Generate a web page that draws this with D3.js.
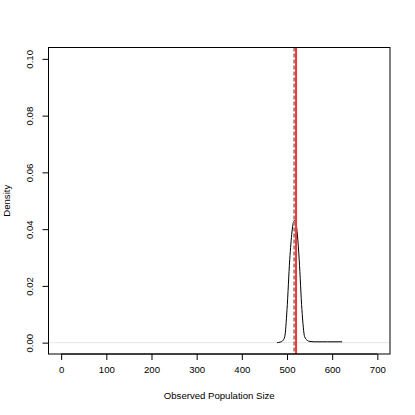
<!DOCTYPE html>
<html>
<head>
<meta charset="utf-8">
<script src="https://cdn.jsdelivr.net/npm/d3@7"></script>
<style>
  body { margin: 0; background: #fff; }
  text { font-family: "Liberation Sans", Arial, sans-serif; fill: #000; }
</style>
</head>
<body>
<div id="chart"></div>
<script>
// density estimate
const sizes = [478, 485, 490, 495, 500, 506, 511, 514, 517, 520, 523, 527, 533, 539, 545, 551, 560, 590, 622];
const density = [0.0000, 0.0002, 0.0006, 0.0021, 0.0116, 0.0292, 0.0390, 0.0423, 0.0431, 0.0420, 0.0380, 0.0292, 0.0116, 0.0021, 0.0008, 0.0004, 0.0003, 0.0003, 0.0003];
const trueSize = 520;   // red line
const modeSize = 516;   // grey dashed line
const xTicks = [0, 100, 200, 300, 400, 500, 600, 700];
const yTicks = [0, 0.02, 0.04, 0.06, 0.08, 0.10];

const width = 415;
const height = 415;
const margin = { top: 47.5, left: 48.5, bottom: 61, right: 25 };

const points = sizes.map((s, i) => ({ x: s, y: density[i] }));

const svg = d3.select("#chart").append("svg")
  .attr("width", width)
  .attr("height", height);

const x = d3.scaleLinear().domain([-28, 728]).range([margin.left, width - margin.right]);
const y = d3.scaleLinear().domain([-0.004, 0.104]).range([height - margin.bottom, margin.top]);

// zero line
svg.append("line")
  .attr("x1", margin.left).attr("x2", width - margin.right)
  .attr("y1", y(0)).attr("y2", y(0))
  .attr("stroke", "#e6e6e6").attr("stroke-width", 1);

// density curve
svg.append("path")
  .datum(points)
  .attr("fill", "none")
  .attr("stroke", "#000")
  .attr("stroke-width", 1)
  .attr("d", d3.line().x(d => x(d.x)).y(d => y(d.y)).curve(d3.curveMonotoneX));

// reference lines
svg.append("line")
  .attr("x1", x(modeSize)).attr("x2", x(modeSize))
  .attr("y1", margin.top).attr("y2", height - margin.bottom)
  .attr("stroke", "#8c8c8c").attr("stroke-width", 2)
  .attr("stroke-dasharray", "4,2");

svg.append("line")
  .attr("x1", x(trueSize)).attr("x2", x(trueSize))
  .attr("y1", margin.top).attr("y2", height - margin.bottom)
  .attr("stroke", "#ff3030").attr("stroke-width", 2);

// box
svg.append("rect")
  .attr("x", margin.left).attr("y", margin.top)
  .attr("width", width - margin.left - margin.right)
  .attr("height", height - margin.top - margin.bottom)
  .attr("fill", "none").attr("stroke", "#000").attr("stroke-width", 1);

// axes
const xAxis = svg.append("g")
  .attr("transform", `translate(0,${height - margin.bottom})`)
  .call(d3.axisBottom(x).tickValues(xTicks).tickSize(6).tickPadding(6).tickFormat(d3.format("d")));
xAxis.select(".domain").attr("d", `M${x(0)},0H${x(700)}`);
xAxis.selectAll("text").attr("font-size", 9.6).attr("font-family", "Liberation Sans, Arial, sans-serif");

const yAxis = svg.append("g")
  .attr("transform", `translate(${margin.left},0)`)
  .call(d3.axisLeft(y).tickValues(yTicks).tickSize(6).tickFormat(d3.format(".2f")));
yAxis.select(".domain").attr("d", `M0,${y(0)}V${y(0.1)}`);
yAxis.selectAll("text")
  .attr("font-size", 9.6)
  .attr("font-family", "Liberation Sans, Arial, sans-serif")
  .attr("text-anchor", "middle")
  .attr("transform", `translate(${30 - margin.left},0) rotate(-90)`)
  .attr("x", 0).attr("y", 0).attr("dy", "0.35em");

svg.selectAll(".domain").attr("stroke", "#000");
svg.selectAll(".tick line").attr("stroke", "#000");

// axis titles
svg.append("text")
  .attr("x", (margin.left + width - margin.right) / 2)
  .attr("y", 396)
  .attr("dy", "0.35em")
  .attr("text-anchor", "middle")
  .attr("font-size", 9.6)
  .text("Observed Population Size");

svg.append("text")
  .attr("transform", `translate(7,${(margin.top + height - margin.bottom) / 2}) rotate(-90)`)
  .attr("dy", "0.35em")
  .attr("text-anchor", "middle")
  .attr("font-size", 9.6)
  .text("Density");
</script>
</body>
</html>
